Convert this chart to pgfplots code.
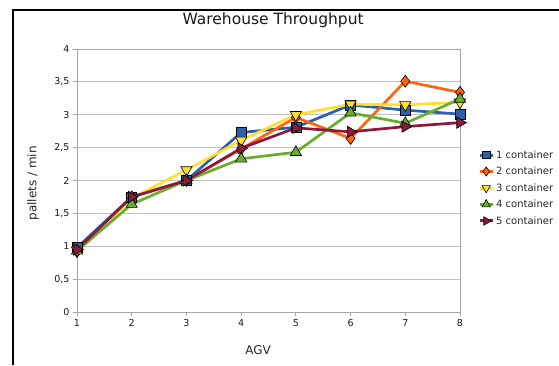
\documentclass[border=0pt]{standalone}
\usepackage{fontspec}
\setmainfont{DejaVu Sans}
\usepackage{pgfplots}
\pgfplotsset{compat=1.18}
\definecolor{cA}{HTML}{2A60AC}
\definecolor{cB}{HTML}{FF6411}
\definecolor{cC}{HTML}{FFE030}
\definecolor{cD}{HTML}{67AE2E}
\definecolor{cE}{HTML}{8C1A3C}
\begin{document}
\begin{tikzpicture}
\path[use as bounding box] (0pt,0pt) rectangle (559pt,365pt);
\draw[line width=1.6pt] (13pt,0pt) -- (13pt,355pt) -- (559pt,355pt);
\begin{axis}[
  at={(77pt,53pt)}, anchor=south west,
  scale only axis, width=383pt, height=263pt,
  xmin=1, xmax=8, ymin=0, ymax=4,
  xtick={1,2,3,4,5,6,7,8},
  ytick={0,0.5,1,1.5,2,2.5,3,3.5,4},
  ymajorgrids,
  grid style={draw=black!25, line width=0.8pt},
  axis line style={draw=black!35, line width=0.8pt},
  tick style={draw=black!35, line width=0.8pt},
  tick align=outside, major tick length=4pt,
  xtick pos=bottom, ytick pos=left,
  /pgf/number format/assume math mode=true,
  /pgf/number format/use comma,
  ticklabel style={font=\fontsize{9.5}{11}\selectfont, text=black!90},
  xlabel={AGV}, ylabel={pallets / min},
  label style={font=\fontsize{12}{14}\selectfont, text=black!85},
  xlabel style={at={(axis description cs:0.473,-0.1597)}, anchor=base},
  ylabel style={at={(axis description cs:-0.1149,0.489)}, anchor=center},
  title={Warehouse Throughput},
  title style={at={(axis description cs:0.512,1.0722)}, anchor=base, font=\fontsize{15.5}{18}\selectfont, text=black!90},
  legend style={at={(axis description cs:1.047,0.4715)}, anchor=west, draw=none, fill=none,
    font=\fontsize{10}{12}\selectfont, row sep=3.4pt, inner sep=0pt, text=black!85},
  legend cell align=left,
  legend image code/.code={\draw[mark repeat=2,mark phase=2,line width=3pt,/tikz/every mark/.append style={scale=0.75}] plot coordinates {(0pt,0pt)(6.5pt,0pt)(13pt,0pt)};},
  every axis plot/.append style={line width=2.7pt},
]
\addplot[color=cA, mark=square*, mark size=5pt, mark options={fill=cA, draw=black, line width=0.6pt}]
  coordinates {(1,0.98)(2,1.75)(3,2.0)(4,2.73)(5,2.81)(6,3.15)(7,3.07)(8,3.01)};
\addlegendentry{1 container}
\addplot[color=cB, mark=diamond*, mark size=6pt, mark options={fill=cB, draw=black, line width=0.6pt}]
  coordinates {(1,0.92)(2,1.75)(3,2.0)(4,2.48)(5,2.96)(6,2.64)(7,3.51)(8,3.34)};
\addlegendentry{2 container}
\addplot[color=cC, mark=triangle*, mark size=6.5pt, mark options={fill=cC, draw=black, line width=0.6pt, rotate=180}]
  coordinates {(1,0.94)(2,1.73)(3,2.16)(4,2.61)(5,3.0)(6,3.16)(7,3.15)(8,3.19)};
\addlegendentry{3 container}
\addplot[color=cD, mark=triangle*, mark size=6.5pt, mark options={fill=cD, draw=black, line width=0.6pt}]
  coordinates {(1,0.93)(2,1.64)(3,2.0)(4,2.33)(5,2.43)(6,3.03)(7,2.87)(8,3.24)};
\addlegendentry{4 container}
\addplot[color=cE, mark=triangle*, mark size=6.5pt, mark options={fill=cE, draw=black, line width=0.6pt, rotate=-90}]
  coordinates {(1,0.95)(2,1.75)(3,2.0)(4,2.49)(5,2.80)(6,2.74)(7,2.82)(8,2.88)};
\addlegendentry{5 container}
\end{axis}
\end{tikzpicture}
\end{document}
